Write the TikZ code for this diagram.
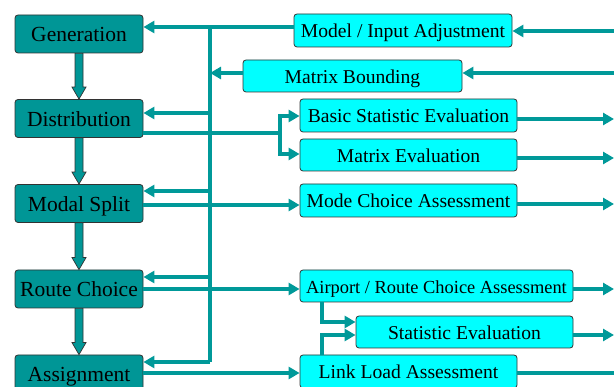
\documentclass[tikz,border=0pt]{standalone}
\usepackage{fontspec}
\setmainfont{Liberation Serif}
\usetikzlibrary{arrows.meta,calc}
\definecolor{tealfill}{RGB}{0,150,150}
\definecolor{tealline}{RGB}{0,153,153}
\definecolor{boxcyan}{RGB}{0,255,255}
\definecolor{edgegray}{RGB}{50,50,50}
\tikzset{
  stage/.style={draw=edgegray, line width=0.8pt, fill=tealfill, rounded corners=3pt,
    minimum width=128pt, minimum height=38pt, inner sep=0pt,
    text height=16pt, text depth=0pt,
    font=\fontsize{21.5}{24}\selectfont},
  task/.style={draw=edgegray, line width=0.8pt, fill=boxcyan, rounded corners=3pt,
    minimum height=33pt, inner sep=0pt,
    text height=15pt, text depth=0pt,
    font=\fontsize{19.6}{22}\selectfont},
  link/.style={draw=tealline, line width=3.2pt},
  flow/.style={link, -{Triangle[length=11pt,width=12pt]}},
  fat/.style={draw=edgegray, line width=0.7pt, fill=tealfill},
}
\begin{document}
\begin{tikzpicture}[x=1pt,y=-1pt]
\clip (0,0) rectangle (614,387);
\useasboundingbox (0,0) rectangle (614,387);

% model stages
\node[stage] (gen)    at (79,34)    {Generation};
\node[stage] (dist)   at (79,118.5) {Distribution};
\node[stage] (modal)  at (79,203.5) {Modal Split};
\node[stage] (route)  at (79,289)   {Route Choice};
\node[stage] (assign) at (79,374)   {Assignment};

% checks and adjustments
\node[task, minimum width=218pt] (mia) at (403,30.5)  {Model / Input Adjustment};
\node[task, minimum width=219pt, minimum height=32pt] (mb) at (352.5,76) {Matrix Bounding};
\node[task, minimum width=217pt] (bse) at (408.5,115.5) {Basic Statistic Evaluation};
\node[task, minimum width=217pt, minimum height=32pt] (me) at (408.5,155) {Matrix Evaluation};
\node[task, minimum width=217pt] (mca) at (408.5,200.5) {Mode Choice Assessment};
\node[task, minimum width=273pt, minimum height=32pt, font=\fontsize{18.4}{21}\selectfont] (arc) at (436.5,286) {Airport / Route Choice Assessment};
\node[task, minimum width=217pt, minimum height=32pt] (se) at (464.5,332) {Statistic Evaluation};
\node[task, minimum width=217pt] (lla) at (408.5,371.5) {Link Load Assessment};

% feedback bus
\coordinate (bustop) at (210,27);
\coordinate (busbot) at (210,362);
\coordinate (split) at (280,133);

% fat arrows between stages
\foreach \a/\b in {gen/dist, dist/modal, modal/route, route/assign}{
  \path[fat] ($(\a.south)+(-4,0)$) -- ($(\b.north)+(-4,-12)$) -- ($(\b.north)+(-7,-12)$)
    -- (\b.north) -- ($(\b.north)+(7,-12)$) -- ($(\b.north)+(4,-12)$) -- ($(\a.south)+(4,0)$) -- cycle;
}

% feedback into the stages
\draw[flow] (mia.west |- bustop) -- (gen.east |- bustop);
\draw[link] (bustop) -- (busbot);
\draw[flow] (mb.west |- 0,73) -- (bustop |- 0,73);
\draw[flow] (bustop |- 0,113) -- (dist.east |- 0,113);
\draw[flow] (bustop |- 0,191) -- (modal.east |- 0,191);
\draw[flow] (bustop |- 0,277) -- (route.east |- 0,277);
\draw[flow] (busbot) -- (assign.east |- busbot);

% inputs from the right edge
\draw[flow] (614,31) -- (mia.east |- 0,31);
\draw[flow] (614,73) -- (mb.east |- 0,73);

% stage outputs to the checks
\draw[link] (dist.east |- split) -- (split);
\draw[flow] (split) |- (bse.west |- 0,116);
\draw[flow] (split) |- (me.west |- 0,154);
\draw[flow] (modal.east |- 0,205) -- (mca.west |- 0,205);
\draw[flow] (route.east |- 0,289) -- (arc.west |- 0,289);
\draw[flow] (assign.east |- 0,373) -- (lla.west |- 0,373);
\draw[flow] (arc.south -| 322,0) |- (se.west |- 0,322);
\draw[flow] (lla.north -| 322,0) |- (se.west |- 0,335);

% outputs to the right edge
\draw[flow] (bse.east |- 0,119) -- (614,119);
\draw[flow] (me.east |- 0,158) -- (614,158);
\draw[flow] (mca.east |- 0,204) -- (614,204);
\draw[flow] (arc.east |- 0,289) -- (614,289);
\draw[flow] (se.east |- 0,335) -- (614,335);
\draw[flow] (lla.east |- 0,373) -- (640,373);
\end{tikzpicture}
\end{document}
